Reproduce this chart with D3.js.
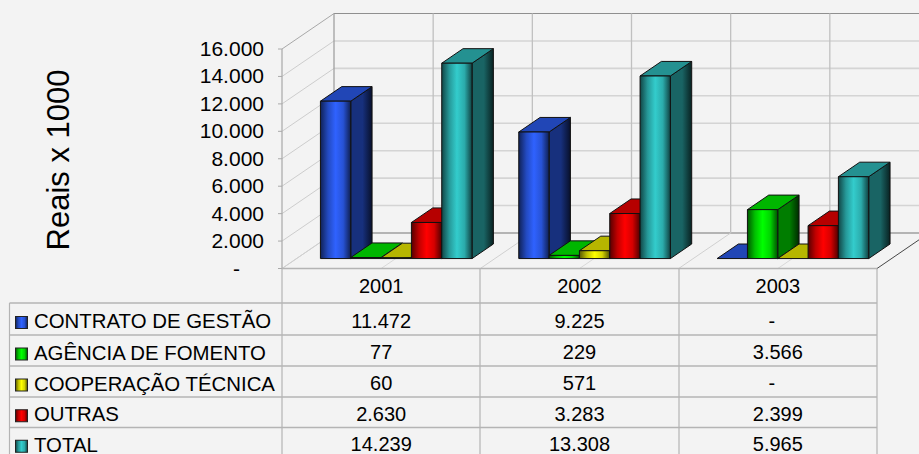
<!DOCTYPE html>
<html><head><meta charset="utf-8">
<script src="https://cdn.jsdelivr.net/npm/d3@7"></script>
<style>html,body{margin:0;padding:0;background:#f3f3f3;overflow:hidden}svg{display:block}text{font-family:"Liberation Sans",Arial,sans-serif;fill:#000}</style>
</head><body><svg id="c" width="919" height="454"></svg>
<script>
const years = ["2001","2002","2003"];
const seriesNames = ["CONTRATO DE GESTÃO","AGÊNCIA DE FOMENTO","COOPERAÇÃO TÉCNICA","OUTRAS","TOTAL"];
const contrato = [11472,9225,null];
const agencia = [77,229,3566];
const cooperacao = [60,571,null];
const outras = [2630,3283,2399];
const total = [14239,13308,5965];
const yTicks = [0,2000,4000,6000,8000,10000,12000,14000,16000];
const frontColors = ["#2f62ff","#00ff00","#ffff00","#ff0000","#33cccc"];
const seriesValues = [contrato,agencia,cooperacao,outras,total];

const svg = d3.select("#c"), defs = svg.append("defs");
const fmt = v => v==null||v===0 ? "-" : d3.format(",")(v).replace(/,/g,".");
const x0 = d3.scaleBand().domain(years).range([282,877]);
const xS = d3.scaleBand().domain(seriesNames).range([0,x0.bandwidth()]).paddingOuter(0.77).paddingInner(0);
const y = d3.scaleLinear().domain([0,16000]).range([268.5,49]);
const depthX = d3.scaleLinear().domain([0,1]).range([0,52]);
const depthY = d3.scaleLinear().domain([0,1]).range([0,-35.5]);

const line=(a,b,c,d,col,w)=>svg.append("line").attr("x1",a).attr("y1",b).attr("x2",c).attr("y2",d).attr("stroke",col).attr("stroke-width",w||1);
const dx=depthX(1), dy=depthY(1), xL=x0.range()[0], xR=x0.range()[1];
yTicks.forEach(t=>{
  line(xL,y(t),xL+dx,y(t)+dy,t==16000?"#a8a8a8":"#cdcdcd",1);
  if(t>0) line(xL+dx,y(t)+dy,919,y(t)+dy,t==16000?"#8f8f8f":"#d4d4d4",t==16000?1:1.6);
});
line(xL+dx,y(0)+dy,919,y(0)+dy,"#b4b4b4",1.8);
const back = d3.range(0,7).map(i=>xL+dx+i*x0.bandwidth()/2);
back.forEach((bx,i)=>line(bx,y(16000)+dy,bx,y(0)+dy,i==0?"#a0a0a0":"#c0c0c0",1.3));
years.forEach((d,i)=>{const fx=xL+i*x0.bandwidth();line(fx,y(0),fx+dx,y(0)+dy,"#d0d0d0",1)});
years.forEach((d,i)=>{const fx=x0(d)+x0.bandwidth()/2;line(fx,y(0),fx+dx,y(0)+dy,"#d8d8d8",1)});
line(xR,y(0),919,y(0)-(919-xR)*35.5/52,"#333",0.9);
yTicks.forEach(t=>{
  line(xL-4,y(t),xL,y(t),"#aaa",1);
  svg.append("text").attr("x",t===0?240:264).attr("y",y(t)+7).attr("text-anchor","end").attr("font-size",21).text(fmt(t));
});
line(xL,y(16000),xL,y(0),"#a8a8a8",1.2);

frontColors.forEach((c,i)=>{
  const k=d3.color(c);
  const g=defs.append("linearGradient").attr("id","f"+i);
  [[0,k.darker(3)],[.25,k.darker(.8)],[.5,k],[.75,k.darker(.5)],[1,k.darker(3.2)]].forEach(s=>g.append("stop").attr("offset",s[0]).attr("stop-color",s[1]));
  const h=defs.append("linearGradient").attr("id","s"+i);
  [[0,k.darker(2)],[.55,k.darker(2)],[1,k.darker(5)]].forEach(s=>h.append("stop").attr("offset",s[0]).attr("stop-color",s[1]));
});
const d0=.29, d1=.70;
const P=(pts)=>pts.map(p=>p.join(",")).join(" ");
years.forEach((yr)=>{
  const yi=years.indexOf(yr);
  seriesNames.forEach((nm,si)=>{
    const v=seriesValues[si][yi]||0;
    const xa=x0(yr)+xS(nm)+depthX(d0), w=xS.bandwidth(), xb=xa+w;
    const b=y(0)+depthY(.28), t=y(v)+depthY(.28);
    const ox=depthX(d1-d0), oy=depthY(d1-d0);
    const g=svg.append("g").attr("stroke","#111").attr("stroke-width",1).attr("stroke-linejoin","round");
    const k=d3.color(frontColors[si]);
    if(v>300) g.append("polygon").attr("points",P([[xb,t],[xb+ox,t+oy],[xb+ox,b+oy],[xb,b]])).attr("fill",`url(#s${si})`);
    g.append("polygon").attr("points",P([[xa,t],[xa+ox,t+oy],[xb+ox,t+oy],[xb,t]])).attr("fill",k.darker(.95));
    if(v>0) g.append("rect").attr("x",xa).attr("y",t).attr("width",w).attr("height",b-t).attr("fill",`url(#f${si})`);
  });
});

const rowY=[268.5,303,335,366,397,427.5,458];
const colX=[282,480,679,877];
const tc="#b4b4b4";
colX.forEach(cx=>line(cx,268.5,cx,454,tc,1.2));
line(9.5,303,9.5,454,tc,1.2);
line(282,268.5,877,268.5,tc,1.4);
rowY.slice(1).forEach(ry=>line(9.5,ry,877,ry,tc,1.4));
years.forEach((yr)=>svg.append("text").attr("x",x0(yr)+x0.bandwidth()/2).attr("y",293).attr("text-anchor","middle").attr("font-size",20).text(yr));
seriesNames.forEach((nm,si)=>{
  const ry=rowY[si+1], cy=(ry+rowY[si+2])/2;
  svg.append("rect").attr("x",15.5).attr("y",cy-2.5).attr("width",12).attr("height",12).attr("fill",`url(#f${si})`).attr("stroke","#222").attr("stroke-width",1);
  svg.append("text").attr("x",34).attr("y",cy+9).attr("font-size",20.4).text(nm);
  years.forEach((yr,i)=>{
    const val=seriesValues[si][i];
    svg.append("text").attr("x",x0(yr)+x0.bandwidth()/2-(val==null?6:0)).attr("y",cy+8.5).attr("text-anchor","middle").attr("font-size",20).text(fmt(val));
  });
});
svg.append("text").attr("transform","translate(69,160) rotate(-90)").attr("text-anchor","middle").attr("font-size",31).text("Reais x 1000");
</script></body></html>
